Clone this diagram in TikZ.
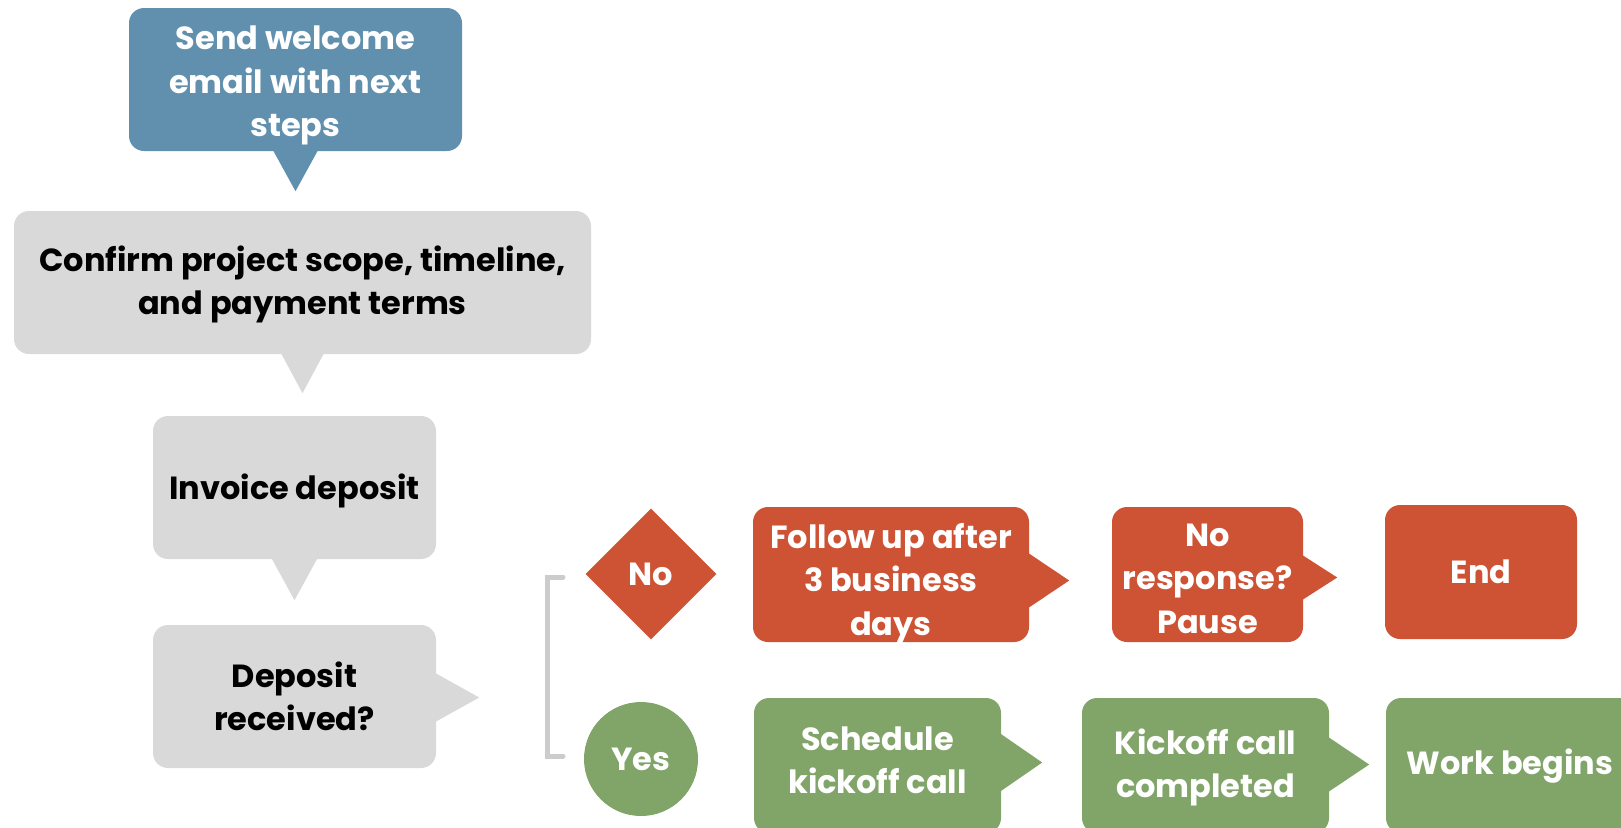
\documentclass[tikz,border=0pt]{standalone}
\usepackage{fontspec}
\setmainfont{Poppins}[BoldFont={Poppins Bold}]
\usetikzlibrary{shapes.geometric,calc}

\definecolor{stepblue}{HTML}{6190AE}
\definecolor{stepgray}{HTML}{D9D9D9}
\definecolor{stepred}{HTML}{CD5334}
\definecolor{stepgreen}{HTML}{81A569}
\definecolor{bracketgray}{HTML}{CCCCCC}

\tikzset{
  boxfont/.style={align=center, inner sep=0pt,
    font=\bfseries\fontsize{32}{43.5}\selectfont},
  wt/.style={boxfont, text=white},
  bt/.style={boxfont, text=black},
  box/.style={rounded corners=15pt, inner sep=0pt},
  bluebox/.style={box, fill=stepblue},
  graybox/.style={box, fill=stepgray},
  redbox/.style={box, fill=stepred},
  greenbox/.style={box, fill=stepgreen},
}

% pointer below a box: node, colour, half base, length
\newcommand{\downtip}[4]{%
  \fill[#2] ($(#1.south)+(-#3,-1)$) -- ($(#1.south)+(0,#4)$) -- ($(#1.south)+(#3,-1)$) -- cycle;}
% pointer right of a box: node, colour, shift, half base, length
\newcommand{\righttip}[5]{%
  \fill[#2] ($(#1.east)+(-1,#3-#4)$) -- ($(#1.east)+(#5,#3)$) -- ($(#1.east)+(-1,#3+#4)$) -- cycle;}

\begin{document}
\begin{tikzpicture}[x=1pt, y=-1pt]
\useasboundingbox (0,0) rectangle (1621,827);

\node[bluebox, minimum width=333, minimum height=143,
  label={[wt, yshift=-6]center:{Send welcome\\email with next\\steps}}] (welcome) at (295.5,79.5) {};
\node[graybox, minimum width=577, minimum height=143,
  label={[bt, yshift=-2]center:{Confirm project scope, timeline,\\and payment terms}}] (scope) at (302.5,282.5) {};
\node[graybox, minimum width=283, minimum height=143,
  label={[bt, yshift=-3]center:{Invoice deposit}}] (invoice) at (294.5,487.5) {};
\node[graybox, minimum width=283, minimum height=143,
  label={[bt]center:{Deposit\\received?}}] (deposit) at (294.5,696.5) {};

\downtip{welcome}{stepblue}{22.5}{40}
\downtip{scope}{stepgray}{21.5}{39}
\downtip{invoice}{stepgray}{23}{41}
\righttip{deposit}{stepgray}{1}{24.5}{43}

% bracket for the two answers
\draw[bracketgray, line width=5pt, line cap=round] (563,577) -- (547,577) -- (547,756) -- (563,756);

\node[wt, diamond, fill=stepred, minimum width=131, minimum height=131] (no) at (651,574) {No};
\node[wt, circle, fill=stepgreen, minimum size=114] (yes) at (641,759) {Yes};

% no branch
\node[redbox, minimum width=276, minimum height=135,
  label={[wt, yshift=-9]center:{Follow up after\\3 business\\days}}] (followup) at (891,574.5) {};
\node[redbox, minimum width=191, minimum height=135,
  label={[wt, yshift=-4]center:{No\\response?\\Pause}}] (noresp) at (1207.5,574.5) {};
\node[redbox, minimum width=192, minimum height=134,
  label={[wt]center:{End}}] (end) at (1481,572) {};

\righttip{followup}{stepred}{6}{27.5}{40}
\righttip{noresp}{stepred}{3}{22.5}{34}

% yes branch
\node[greenbox, minimum width=247, minimum height=135,
  label={[wt, yshift=5]center:{Schedule\\kickoff call}}] (schedule) at (877.5,765.5) {};
\node[greenbox, minimum width=247, minimum height=135,
  label={[wt, yshift=-2]center:{Kickoff call\\completed}}] (kickoff) at (1205.5,765.5) {};
\node[greenbox, minimum width=248, minimum height=135,
  label={[wt, yshift=-1]center:{Work begins}}] (work) at (1510,765.5) {};

\righttip{schedule}{stepgreen}{-3}{29}{41}
\righttip{kickoff}{stepgreen}{-1}{27.5}{40}

\end{tikzpicture}
\end{document}
